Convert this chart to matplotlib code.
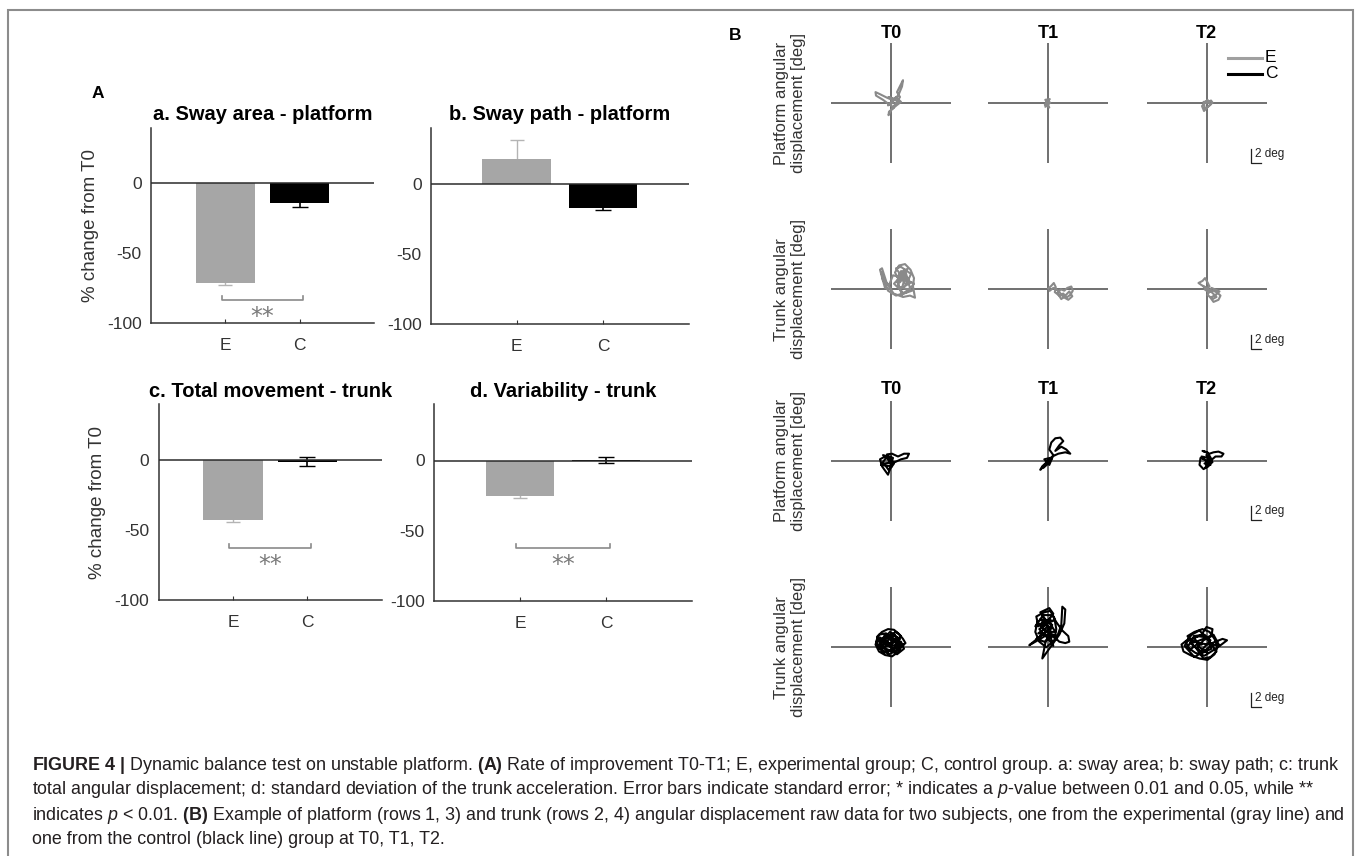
import matplotlib
matplotlib.use('Agg')
import matplotlib.pyplot as plt
from matplotlib import font_manager
from matplotlib.lines import Line2D
from matplotlib.patches import Rectangle

plt.rcParams['font.family'] = ['Liberation Sans', 'DejaVu Sans']
plt.rcParams['axes.unicode_minus'] = False
plt.rcParams['mathtext.fontset'] = 'custom'
plt.rcParams['mathtext.rm'] = 'Liberation Sans'
plt.rcParams['mathtext.it'] = 'Liberation Sans:italic'
plt.rcParams['mathtext.bf'] = 'Liberation Sans:bold'

names = {f.name for f in font_manager.fontManager.ttflist}
narrow = 'Liberation Sans Narrow' if 'Liberation Sans Narrow' in names else 'Liberation Sans'

# ---- panel A: % change from T0 ----
groups = ['E', 'C']
titles = ['a. Sway area - platform', 'b. Sway path - platform',
          'c. Total movement - trunk', 'd. Variability - trunk']
mean_e = [-71.5, 18, -42.5, -25]
mean_c = [-14, -17, -1, 0.5]
se_e = [1.2, 13, 1.5, 2]
se_c = [3, 1.5, 3.2, 2.2]
signif = ['**', '', '**', '**']

# ---- panel B: angular displacement traces [deg], (x, y) ----
e_platform_t0 = [(0, 0), (0.8, 0.6), (-0.5, 0.9), (1.5, 0.3), (0.2, -0.8), (1.8, 0.9), (1.2, 1.6),
                 (1.9, 2.6), (2.4, 3.3), (2.2, 2.4), (1.5, 1.2), (0.5, 0.4), (-0.8, 0.8), (-2.2, 1.3),
                 (-3.1, 1.6), (-3.0, 1.1), (-1.6, 0.5), (-0.3, -0.2), (0.6, -0.6), (-0.4, -1.2),
                 (-0.5, -1.7), (0.1, -0.9), (1.1, -0.3), (2.0, 0.2), (1.0, 0.9), (0.2, 0.3),
                 (-0.6, -0.3), (0.4, 0.1)]
e_platform_t1 = [(0, 0), (-0.6, 0.5), (0.3, 0.6), (-0.7, -0.2), (0.2, -0.6), (-0.4, 0.3),
                 (0.4, 0.1), (-0.6, -0.5), (0, 0.4)]
e_platform_t2 = [(0, 0), (0.9, 0.4), (1.2, 0.1), (0.3, -0.5), (-0.5, -1.1), (-0.9, -0.4),
                 (0.2, 0.5), (0.8, -0.2), (-0.3, -0.8), (-0.6, 0.2), (0.5, 0.3)]
e_trunk_t0 = [(0, 0), (-1.2, 0.2), (-2.2, 2.8), (-1.8, 3.0), (-0.9, 1.0), (0.5, -0.6), (2.4, -1.1),
              (3.8, -0.9), (4.8, -1.2), (4.4, 0.4), (4.6, 1.6), (3.9, 2.8), (2.8, 3.6), (1.6, 3.4),
              (0.8, 2.4), (1.8, 1.0), (3.0, 2.2), (2.2, 0.2), (4.0, 1.0), (1.2, 1.8), (3.4, 3.0),
              (0.6, 0.8), (2.6, -0.6), (4.2, -0.2), (1.4, 0.4), (2.0, 2.6), (3.6, 1.4), (0.4, 2.0),
              (-0.4, 0.6), (-1.6, 1.2), (-1.9, 2.4), (-0.6, -0.2), (1.0, -0.9), (3.2, -0.4),
              (4.6, 0.8), (2.4, 1.6), (1.0, 3.0), (2.0, 3.2), (4.0, 2.2), (3.0, 0.6), (1.6, 2.2),
              (2.8, 2.8), (3.8, 0.2), (2.2, -0.8), (1.2, 1.2), (2.4, 2.0), (3.2, 1.0)]
e_trunk_t1 = [(0, 0.1), (0.6, 0.5), (1.1, 0.9), (1.5, 0.3), (1.3, -0.4), (2.2, -0.9), (3.0, -0.6),
              (3.6, -1.2), (4.4, -0.8), (4.9, -0.2), (4.6, 0.4), (3.8, 0.2), (3.2, -0.2), (2.5, 0.0),
              (1.8, -0.5), (2.6, -1.4), (3.4, -0.9), (4.2, -0.3), (4.8, -1.0), (4.0, -1.5),
              (3.0, -1.1), (2.0, -0.2), (1.0, 0.2), (0.3, -0.2)]
e_trunk_t2 = [(-0.2, 0.3), (-1.0, 0.6), (-1.6, 0.9), (-0.8, 1.2), (-0.3, 1.6), (0.2, 1.0), (0.6, 0.4),
              (-0.4, 0.0), (0.4, -0.4), (1.4, -0.2), (2.2, -0.5), (2.8, -0.9), (2.4, -1.5),
              (1.4, -1.8), (0.8, -1.2), (1.8, -0.8), (2.6, -0.3), (1.0, 0.2), (0.2, -0.8),
              (1.2, -1.4), (2.0, -1.1), (0.6, -0.1), (-0.6, 0.4)]
c_platform_t0 = [(0, 0), (-1.2, 0.6), (-2.2, 0.2), (-1.8, -0.8), (-1.0, -1.6), (-0.6, -2.0),
                 (-0.2, -1.2), (0.6, -0.4), (-0.8, 0.9), (0.2, 1.0), (1.4, 0.6), (2.6, 1.0),
                 (3.6, 1.0), (3.2, 0.4), (2.0, 0.2), (0.8, -0.2), (-1.4, -0.4), (-0.4, -1.4),
                 (0.4, 0.4), (-1.6, 0.8), (-0.6, 0.2), (0.2, -0.8), (-2.0, -0.6), (-1.0, 0.4),
                 (0.0, 0.6)]
c_platform_t1 = [(0, 0), (-1.2, -0.8), (-1.6, -1.3), (-0.6, -0.6), (0.4, 0.4), (-0.8, 0.2),
                 (0.2, -0.6), (1.0, 0.8), (0.2, 1.6), (0.6, 2.6), (1.4, 3.2), (2.4, 3.3), (3.0, 2.8),
                 (2.2, 2.2), (1.4, 1.4), (2.6, 2.0), (3.6, 1.6), (4.4, 1.0), (3.4, 1.2), (2.0, 1.0),
                 (0.8, 0.6), (-0.4, -0.2), (0.6, 0.2), (-1.0, -1.0), (0.0, -0.4)]
c_platform_t2 = [(0, 0), (-1.2, 0.4), (-1.4, -0.6), (-0.6, -1.2), (0.4, -0.8), (1.0, 0.2),
                 (0.2, 1.2), (-0.8, 1.4), (0.6, 1.0), (1.4, 1.2), (2.4, 1.3), (3.4, 1.0),
                 (3.0, 0.6), (1.8, 0.6), (0.8, 0.0), (-0.4, -0.4), (0.8, -0.6), (-1.0, 0.6),
                 (0.4, 0.4), (-0.2, -1.0), (1.2, -0.2), (0.0, 0.8)]
c_trunk_t0 = [(-0.4, 0.6), (-2.6, 1.2), (-3.1, 0.4), (-2.4, -0.6), (-1.2, -1.1), (0.2, -1.3),
              (1.4, -0.7), (2.2, 0.2), (2.9, 0.6), (2.4, 1.2), (1.6, 1.9), (0.6, 2.5), (-0.6, 2.6),
              (-1.8, 2.2), (-2.8, 1.5), (-2.0, 0.2), (-0.6, -0.6), (1.0, 0.0), (1.8, 1.2),
              (0.2, 1.8), (-1.4, 1.4), (-2.2, 0.6), (-1.0, -0.2), (0.8, -0.8), (1.6, 0.4),
              (0.6, 1.2), (-1.0, 2.0), (-2.4, 1.8), (-3.0, 0.8), (-1.6, -0.8), (0.4, -0.4),
              (2.0, 0.8), (2.6, -0.2), (1.2, -1.0), (-0.2, 0.4), (-1.6, 0.6), (-0.6, 1.6),
              (1.0, 2.2), (2.0, 1.6), (0.4, 0.6), (-2.0, -0.2), (-1.0, 0.8), (0.8, 1.8),
              (1.8, -0.2), (-0.4, -1.0), (-2.6, 0.0), (-1.2, 1.8), (0.0, 1.0), (1.4, 0.6),
              (2.6, 0.4), (0.2, -0.2), (-1.8, 1.0), (-0.2, 2.2), (1.2, 1.4), (-0.8, 0.2),
              (-2.2, 1.4), (0.6, 0.2), (1.6, 1.0), (-0.4, 1.2)]
c_trunk_t1 = [(-0.6, 2.4), (-2.2, 3.6), (-2.6, 2.2), (-1.8, 0.8), (-0.4, 0.0), (1.2, 1.0),
              (1.6, 2.6), (1.2, 4.2), (0.4, 5.2), (-0.8, 5.0), (-2.4, 4.4), (-2.0, 3.0),
              (-0.6, 3.8), (0.8, 3.2), (-1.2, 1.8), (-3.8, 0.3), (-1.6, 1.2), (0.2, 2.0),
              (1.8, 1.6), (2.6, 3.2), (2.8, 5.8), (3.4, 5.4), (3.2, 3.4), (2.2, 1.8), (0.8, 0.4),
              (-0.2, -0.6), (-1.2, -1.6), (-0.6, 0.6), (0.6, 2.8), (-1.4, 3.4), (-2.6, 3.0),
              (-1.0, 4.6), (0.8, 4.6), (1.6, 3.6), (2.8, 2.4), (4.0, 1.6), (4.2, 0.8), (3.4, 0.6),
              (2.2, 0.8), (1.0, 1.6), (-0.8, 0.8), (-2.4, 1.2), (-0.4, 2.2), (1.4, 2.2),
              (0.2, 3.6), (-1.8, 2.6), (0.0, 1.2), (1.0, 0.2), (-0.6, 4.0), (-1.6, 5.0),
              (0.2, 5.6), (1.0, 4.8), (-1.2, 2.8), (0.4, 4.2), (-0.8, 3.2), (1.0, 3.8),
              (-1.6, 4.0), (0.0, 3.0), (-2.0, 2.0), (0.6, 1.6)]
c_trunk_t2 = [(-1.0, 0.4), (-3.6, 1.2), (-5.0, 0.4), (-4.6, -0.6), (-3.0, -1.2), (-1.4, -1.6),
              (0.2, -1.8), (1.6, -1.0), (2.2, 0.0), (1.6, 1.2), (0.6, 2.2), (-0.8, 2.6),
              (-2.4, 2.2), (-3.8, 1.6), (-2.6, 0.2), (-0.8, -0.8), (1.0, -0.2), (0.2, 1.4),
              (-1.8, 1.6), (-4.2, 0.8), (-3.4, -0.4), (-1.6, 0.6), (0.4, 0.4), (1.8, 0.8),
              (3.2, 1.2), (4.1, 1.0), (3.0, 0.4), (1.4, -0.4), (-0.4, -1.2), (-2.2, -0.8),
              (-3.8, 0.0), (-2.8, 1.2), (-1.0, 1.8), (0.0, 2.9), (1.2, 2.6), (1.0, 1.6),
              (-0.6, 1.0), (-2.0, -0.2), (-0.6, -1.6), (0.8, -1.4), (2.0, -0.6), (0.6, 0.8),
              (-1.4, 2.4), (-3.0, 1.8), (-4.4, 0.2), (-2.4, -1.4), (-0.2, -0.4), (1.2, 0.4),
              (2.6, 0.2), (1.4, 1.8), (-2.0, 0.8), (-3.2, 0.6), (-1.2, -0.6), (0.8, 1.0),
              (-0.4, 1.8), (-2.6, 1.6), (-1.4, 0.0), (0.2, -0.8)]
times = ['T0', 'T1', 'T2']
row_labels = ['Platform angular\ndisplacement [deg]', 'Trunk angular\ndisplacement [deg]',
              'Platform angular\ndisplacement [deg]', 'Trunk angular\ndisplacement [deg]']

caption = [
    r'$\bf{FIGURE\ 4\ |}$ Dynamic balance test on unstable platform. $\bf{(A)}$ Rate of improvement '
    r'T0-T1; E, experimental group; C, control group. a: sway area; b: sway path; c: trunk',
    r'total angular displacement; d: standard deviation of the trunk acceleration. Error bars indicate '
    r'standard error; * indicates a $\it{p}$-value between 0.01 and 0.05, while **',
    r'indicates $\it{p}$ < 0.01. $\bf{(B)}$ Example of platform (rows 1, 3) and trunk (rows 2, 4) '
    r'angular displacement raw data for two subjects, one from the experimental (gray line) and',
    r'one from the control (black line) group at T0, T1, T2.',
]

W, H = 1358, 856
fig = plt.figure(figsize=(W / 100, H / 100), dpi=100)


def px_axes(l, t, r, b):
    return fig.add_axes([l / W, 1 - b / H, (r - l) / W, (b - t) / H])


def ftext(x, y, s, **kw):
    return fig.text(x / W, 1 - y / H, s, **kw)


fig.add_artist(Rectangle((8 / W, -0.05), 1345 / W, 1 - 10 / H + 0.05, transform=fig.transFigure,
                         fill=False, edgecolor='#8c8c8c', lw=1.5))

gray = '#a6a6a6'
bar_boxes = [(150.9, 127.7, 374.1, 322.7), (430.8, 127.7, 689, 324),
             (158.5, 404.3, 381.7, 600), (433.9, 404.3, 692, 601)]
bracket_y = [-84, None, -62.7, -62.6]

for i in range(4):
    ax = px_axes(*bar_boxes[i])
    ax.errorbar(1, mean_e[i], yerr=se_e[i], color='#b4b4b4', lw=1, capsize=4.8, zorder=2)
    ax.errorbar(2, mean_c[i], yerr=se_c[i], color='black', lw=1.2, capsize=5.5, zorder=2)
    ax.bar([1, 2], [mean_e[i], mean_c[i]], width=0.8, color=[gray, 'black'], zorder=3)
    ax.axhline(0, color='#2b2b2b', lw=1.1, zorder=4)
    ax.set_xlim(0, 3)
    ax.set_ylim(-100, 40)
    ax.set_yticks([-100, -50, 0])
    ax.set_xticks([1, 2], groups)
    for s in ['top', 'right']:
        ax.spines[s].set_visible(False)
    for s in ['left', 'bottom']:
        ax.spines[s].set_color('#333333')
        ax.spines[s].set_linewidth(1.1)
    ax.tick_params(axis='x', direction='in', length=3, width=0.8, pad=11, labelsize=12.5,
                   colors='#333333')
    ax.tick_params(axis='y', length=0, pad=6.5, labelsize=12.5, colors='#333333')
    ax.set_title(titles[i], fontsize=14.5, fontweight='bold', family=[narrow, 'Liberation Sans'],
                 pad=5.3)
    if i % 2 == 0:
        ax.set_ylabel('% change from T0', fontsize=13.5, color='#333333', labelpad=6)
    if signif[i]:
        yb = bracket_y[i]
        ax.plot([0.95, 0.95, 2.05, 2.05], [yb + 3, yb, yb, yb + 3], color='#8a8a8a', lw=1.2)
        ax.text(1.5, yb - 12, signif[i], ha='center', va='center', fontsize=17,
                color='#7a7a7a', family='DejaVu Sans')

ftext(98, 93, 'A', fontsize=12.5, fontweight='bold', ha='center', va='center')

# panel B
cx = [891, 1048.3, 1206.5]
cy = [103.3, 289.3, 460.7, 647.3]
half = 60
rows = [([e_platform_t0, e_platform_t1, e_platform_t2], '#8a8a8a'),
        ([e_trunk_t0, e_trunk_t1, e_trunk_t2], '#8a8a8a'),
        ([c_platform_t0, c_platform_t1, c_platform_t2], 'black'),
        ([c_trunk_t0, c_trunk_t1, c_trunk_t2], 'black')]

for r, (traces, col) in enumerate(rows):
    for j, tr in enumerate(traces):
        ax = px_axes(cx[j] - half, cy[r] - half, cx[j] + half, cy[r] + half)
        ax.set_xlim(-12, 12)
        ax.set_ylim(-8.57, 8.57)
        ax.axis('off')
        ax.axhline(0, color='#707070', lw=1.4, zorder=1)
        ax.axvline(0, color='#707070', lw=1.4, zorder=1)
        xs = [p[0] for p in tr]
        ys = [p[1] for p in tr]
        ax.plot(xs, ys, color=col, lw=1.5, zorder=2, clip_on=False, solid_joinstyle='round')
        if j == 2:
            ax.plot([8.9, 8.9, 10.9], [-6.5, -8.5, -8.5], color='#222222', lw=0.9, clip_on=False)
            ax.text(9.7, -7.2, '2 deg', fontsize=8.5, family=[narrow, 'Liberation Sans'],
                    ha='left', va='center', color='#222222')
    ftext(790, cy[r], row_labels[r], rotation=90, ha='center', va='center',
          multialignment='center', fontsize=12, color='#333333', linespacing=1.15)
    if r in (0, 2):
        ty = 33.3 if r == 0 else 390
        for j in range(3):
            ftext(cx[j], ty, times[j], ha='center', va='center', fontsize=13,
                  fontweight='bold', family=[narrow, 'Liberation Sans'])

ftext(735, 35, 'B', fontsize=12.5, fontweight='bold', ha='center', va='center')

# legend
for yy, col, lab in [(57.7, '#a0a0a0', 'E'), (74, 'black', 'C')]:
    fig.add_artist(Line2D([1228 / W, 1261.5 / W], [1 - yy / H, 1 - yy / H], color=col, lw=2.2,
                          transform=fig.transFigure))
    ftext(1265, yy, lab, fontsize=12.5, ha='left', va='center', family=[narrow, 'Liberation Sans'])

# caption
for k, line in enumerate(caption):
    ftext(32, 765 + 25 * k, line, fontsize=12.9, ha='left', va='center', color='#231f20')

fig.savefig('out.png', dpi=100)
